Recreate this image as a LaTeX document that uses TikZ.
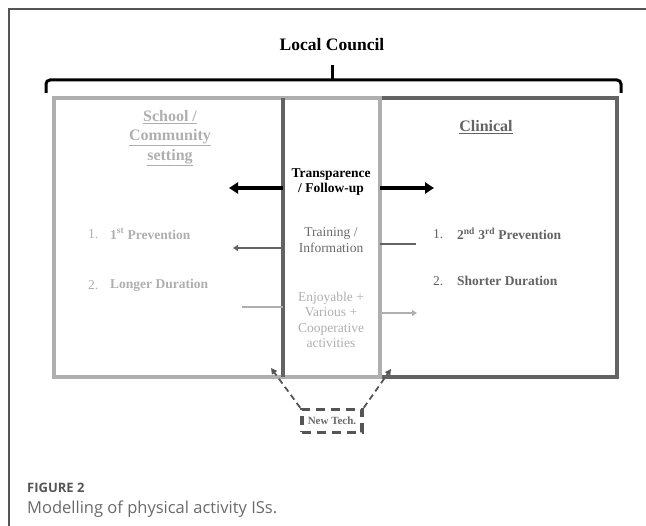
\documentclass[tikz,border=0pt]{standalone}
\usepackage{fontspec}
\setmainfont{Liberation Serif}
\newfontfamily\capfont{Open Sans}
\usetikzlibrary{arrows.meta, positioning}
\definecolor{lightgr}{HTML}{AFAFAF}
\definecolor{darkgr}{HTML}{636363}
\definecolor{midgr}{HTML}{6A6A6A}
\definecolor{framegr}{HTML}{555555}

\tikzset{
    head/.style={font=\fontsize{16}{19.5}\selectfont\bfseries, align=center, inner sep=0pt},
    txt/.style={font=\fontsize{13.5}{15.5}\selectfont, align=center, inner sep=0pt},
    item/.style={txt, anchor=west},
    lightbox/.style={draw=lightgr, line width=4pt},
    darkbox/.style={draw=darkgr, line width=4pt},
    bigarrow/.style={-{Triangle[length=9pt, width=11pt]}, line width=3.5pt},
    thinarrow/.style={-{Triangle[length=5pt, width=6pt]}, line width=1.8pt},
    dasharrow/.style={-{Triangle[length=6pt, width=6pt]}, line width=1.8pt, dash pattern=on 6pt off 4pt, framegr}
}

\begin{document}
\begin{tikzpicture}[x=1pt, y=-1pt]
    \useasboundingbox (0,0) rectangle (646,526);

    % Page frame
    \draw[framegr, line width=1.2pt] (9,526) -- (9,9) -- (646,9);

    % Council and its brace
    \node[head, font=\fontsize{17.5}{20}\selectfont\bfseries] (council) at (332,45) {Local Council};
    \coordinate (bl) at (46,93);
    \coordinate (br) at (621,93);
    \coordinate (bm) at (332,80);
    \coordinate (bt) at (332,65);
    \draw[line width=3pt, rounded corners=4pt] (bl) -- (46,80) -- (621,80) -- (br);
    \draw[line width=3pt] (bm) -- (bt);

    % The two settings
    \draw[darkbox] (283,98) rectangle (617,377);
    \draw[lightbox] (54,98) rectangle (380,377);
    \draw[darkbox] (283,98) -- (283,377);

    \node[head, lightgr] (school) at (170,138) {\underline{School /}\\ \underline{Community}\\ \underline{setting}};
    \node[head, darkgr] (clinical) at (486,127) {\underline{Clinical}};

    % Middle column
    \node[txt, font=\fontsize{13.5}{15.5}\selectfont\bfseries] (follow) at (331,182) {Transparence\\ / Follow-up};
    \node[txt, midgr] (training) at (331,240) {Training /\\ Information};
    \node[txt, lightgr] (enjoy) at (331,320) {Enjoyable +\\ Various +\\ Cooperative\\ activities};

    % Lists
    \node[item, lightgr] (l1) at (88,234) {1.};
    \node[item, lightgr, font=\fontsize{13.5}{15.5}\selectfont\bfseries] (lp1) at (110,234) {1\textsuperscript{st} Prevention};
    \node[item, lightgr] (l2) at (88,285) {2.};
    \node[item, lightgr, font=\fontsize{13.5}{15.5}\selectfont\bfseries] (lp2) at (110,285) {Longer Duration};

    \node[item, darkgr] (r1) at (433,234) {1.};
    \node[item, darkgr, font=\fontsize{13.5}{15.5}\selectfont\bfseries] (rp1) at (457,234) {2\textsuperscript{nd} 3\textsuperscript{rd} Prevention};
    \node[item, darkgr] (r2) at (433,281) {2.};
    \node[item, darkgr, font=\fontsize{13.5}{15.5}\selectfont\bfseries] (rp2) at (457,281) {Shorter Duration};

    % Arrows out of the middle column
    \coordinate (fl) at (283,188);
    \coordinate (fle) at (229,188);
    \coordinate (fr) at (380,188);
    \coordinate (fre) at (434,188);
    \draw[bigarrow] (fl) -- (fle);
    \draw[bigarrow] (fr) -- (fre);

    \coordinate (tl) at (283,248);
    \coordinate (tle) at (233,248);
    \coordinate (tr) at (380,244);
    \coordinate (tre) at (416,244);
    \draw[thinarrow, darkgr] (tl) -- (tle);
    \draw[line width=1.8pt, darkgr] (tr) -- (tre);

    \coordinate (el) at (283,307);
    \coordinate (ele) at (242,307);
    \coordinate (er) at (380,313);
    \coordinate (ere) at (417,313);
    \draw[line width=1.8pt, lightgr] (el) -- (ele);
    \draw[thinarrow, lightgr] (er) -- (ere);

    % New technologies
    \node[draw=framegr, line width=3.5pt, dash pattern=on 9pt off 6pt, minimum width=60pt, minimum height=23pt,
          font=\fontsize{11}{13}\selectfont\bfseries, text=midgr] (tech) at (332,421) {New Tech.};
    \coordinate (ntl) at (271,368);
    \coordinate (ntr) at (391,369);
    \draw[dasharrow] (tech.north west) -- (ntl);
    \draw[dasharrow] (tech.north east) -- (ntr);

    % Caption
    \node[anchor=west, inner sep=0pt, font=\capfont\fontsize{13}{15}\selectfont\bfseries, text=framegr] (fig) at (27,488) {FIGURE 2};
    \node[anchor=west, inner sep=0pt, font=\capfont\fontsize{16.5}{19}\selectfont, text=midgr] (cap) at (27,509) {Modelling of physical activity ISs.};
\end{tikzpicture}
\end{document}
